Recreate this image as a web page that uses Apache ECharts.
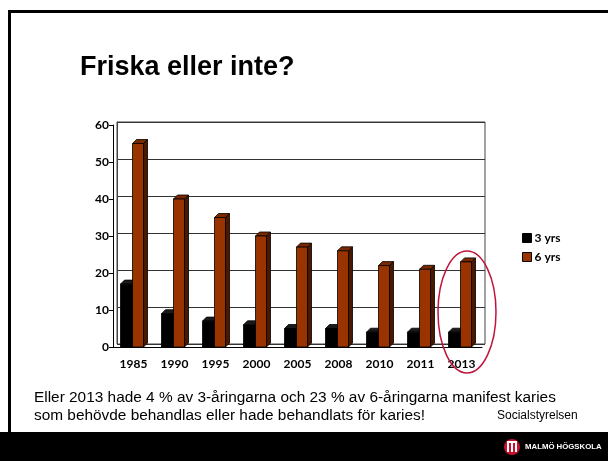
<!DOCTYPE html>
<html lang="sv">
<head>
<meta charset="UTF-8">
<script src="https://cdn.jsdelivr.net/npm/echarts@6/dist/echarts.min.js"></script>
<title>Friska eller inte?</title>
<style>
  html, body { margin: 0; padding: 0; background: #fff; }
</style>
</head>
<body>
<div id="main" style="width:608px;height:461px;"></div>
<script type="text/javascript">
// data
var years = ['1985', '1990', '1995', '2000', '2005', '2008', '2010', '2011', '2013'];
var yrs3 = [17, 9, 7, 6, 5, 5, 4, 4, 4];
var yrs6 = [55, 40, 35, 30, 27, 26, 22, 21, 23];
var yTicks = [0, 10, 20, 30, 40, 50, 60];

var DEPTH = 4;

// 3D looking bar: front, top and side face
function makeBar(offset, width, front, topc, side) {
    return function (params, api) {
        var base = api.coord([api.value(0), 0]);
        var top = api.coord([api.value(0), api.value(1)]);
        var x0 = base[0] + offset;
        var d = DEPTH;
        var stroke = { stroke: '#000', lineWidth: 0.8 };
        return {
            type: 'group',
            children: [
                {
                    type: 'polygon',
                    shape: { points: [[x0 + width, top[1]], [x0 + width + d, top[1] - d], [x0 + width + d, base[1] - d], [x0 + width, base[1]]] },
                    style: Object.assign({ fill: side }, stroke)
                },
                {
                    type: 'polygon',
                    shape: { points: [[x0, top[1]], [x0 + d, top[1] - d], [x0 + width + d, top[1] - d], [x0 + width, top[1]]] },
                    style: Object.assign({ fill: topc }, stroke)
                },
                {
                    type: 'rect',
                    shape: { x: x0, y: top[1], width: width, height: base[1] - top[1] },
                    style: Object.assign({ fill: front }, stroke)
                }
            ]
        };
    };
}

var d3 = yrs3.map(function (v, i) { return [i, v]; });
var d6 = yrs6.map(function (v, i) { return [i, v]; });

var myChart = echarts.init(document.getElementById('main'));

var option = {
    backgroundColor: '#fff',
    animation: false,
    textStyle: { fontFamily: 'Lato' },
    title: {
        text: 'Friska eller inte?',
        left: 75,
        top: 49,
        textStyle: { fontFamily: 'Liberation Sans', fontSize: 27, fontWeight: 'bold', color: '#000' }
    },
    legend: {
        orient: 'vertical',
        left: 517,
        top: 227,
        icon: 'rect',
        itemWidth: 9,
        itemHeight: 9,
        itemGap: 7,
        data: ['3 yrs', '6 yrs'],
        itemStyle: { borderColor: '#000', borderWidth: 1 },
        textStyle: { fontFamily: 'Lato', fontWeight: 'bold', fontSize: 12, color: '#000', padding: [0, 0, 0, -2] }
    },
    grid: [
        // front: axes
        { left: 113, right: 126, top: 125, bottom: 114 },
        // back wall: gridlines
        { left: 117, right: 123, top: 122, bottom: 117, show: true, borderColor: '#444', borderWidth: 1 }
    ],
    xAxis: [
        {
            type: 'category',
            gridIndex: 0,
            data: years,
            axisLine: { lineStyle: { color: '#000', width: 1 } },
            axisTick: { length: 4, lineStyle: { color: '#000' } },
            axisLabel: { margin: 11, fontFamily: 'Lato', fontWeight: 'bold', fontSize: 12, color: '#000' }
        },
        {
            type: 'category',
            gridIndex: 1,
            data: years,
            show: false
        }
    ],
    yAxis: [
        {
            type: 'value',
            gridIndex: 0,
            min: 0,
            max: 60,
            interval: 10,
            axisLine: { show: true, lineStyle: { color: '#000', width: 1 } },
            axisTick: { show: true, length: 4, lineStyle: { color: '#000' } },
            splitLine: { show: false },
            axisLabel: {
                margin: 4,
                fontFamily: 'Lato', fontWeight: 'bold', fontSize: 12, color: '#000',
                formatter: function (v) { return yTicks.indexOf(v) >= 0 ? String(v) : ''; }
            }
        },
        {
            type: 'value',
            gridIndex: 1,
            min: 0,
            max: 60,
            interval: 10,
            axisLine: { show: true, lineStyle: { color: '#444' } },
            axisTick: { show: false },
            axisLabel: { show: false },
            splitLine: { show: true, lineStyle: { color: '#333', width: 1 } }
        }
    ],
    series: [
        {
            name: '3 yrs',
            type: 'custom',
            xAxisIndex: 0,
            yAxisIndex: 0,
            renderItem: makeBar(-13, 12, '#000000', '#1a1a1a', '#000000'),
            itemStyle: { color: '#000000' },
            encode: { x: 0, y: 1 },
            data: d3,
            z: 3
        },
        {
            name: '6 yrs',
            type: 'custom',
            xAxisIndex: 0,
            yAxisIndex: 0,
            renderItem: makeBar(-1, 11, '#993300', '#7a2800', '#4a1800'),
            itemStyle: { color: '#993300' },
            encode: { x: 0, y: 1 },
            data: d6,
            z: 4
        }
    ],
    graphic: [
        // slide frame
        { type: 'rect', shape: { x: 8, y: 10, width: 3, height: 424 }, style: { fill: '#000' }, silent: true },
        { type: 'rect', shape: { x: 8, y: 10, width: 600, height: 3 }, style: { fill: '#000' }, silent: true },
        // footer bar
        { type: 'rect', shape: { x: 0, y: 432, width: 608, height: 29 }, style: { fill: '#000' }, silent: true },
        // highlight around 2013
        {
            type: 'ellipse',
            shape: { cx: 467, cy: 312, rx: 29, ry: 61 },
            style: { fill: 'none', stroke: '#c0143c', lineWidth: 1.5 },
            z: 10
        },
        {
            type: 'text',
            left: 34,
            top: 389,
            style: {
                text: 'Eller 2013 hade 4 % av 3-åringarna och 23 % av 6-åringarna manifest karies\nsom behövde behandlas eller hade behandlats för karies!',
                font: '15.4px "Liberation Sans"',
                lineHeight: 18,
                fill: '#000'
            }
        },
        {
            type: 'text',
            left: 497,
            top: 410,
            style: { text: 'Socialstyrelsen', font: '12px "Liberation Sans"', fill: '#000' }
        },
        // logo
        { type: 'circle', shape: { cx: 512, cy: 447, r: 8 }, style: { fill: '#c8102e' } },
        { type: 'rect', shape: { x: 507, y: 443, width: 2, height: 9 }, style: { fill: '#fff' } },
        { type: 'rect', shape: { x: 511, y: 441, width: 2, height: 11 }, style: { fill: '#fff' } },
        { type: 'rect', shape: { x: 515, y: 443, width: 2, height: 9 }, style: { fill: '#fff' } },
        { type: 'rect', shape: { x: 507, y: 441, width: 10, height: 2 }, style: { fill: '#fff' } },
        {
            type: 'text',
            left: 525,
            top: 443,
            style: { text: 'MALMÖ HÖGSKOLA', font: 'bold 7.8px "Liberation Sans"', fill: '#fff' }
        }
    ]
};

myChart.setOption(option);
</script>
</body>
</html>
